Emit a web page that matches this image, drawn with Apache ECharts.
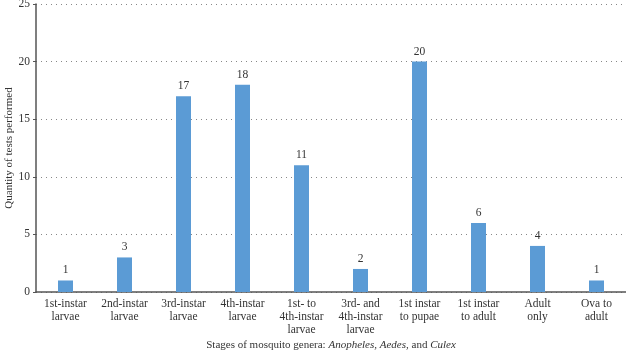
<!DOCTYPE html>
<html>
<head>
<meta charset="utf-8">
<script src="https://cdn.jsdelivr.net/npm/echarts@6/dist/echarts.min.js"></script>
<style>
  html, body { margin: 0; padding: 0; background: #fff; }
  #chart { width: 626px; height: 353px; }
</style>
</head>
<body>
<div id="chart"></div>
<script>
// stages (categories) and counts
var stages = [
  "1st-instar\nlarvae",
  "2nd-instar\nlarvae",
  "3rd-instar\nlarvae",
  "4th-instar\nlarvae",
  "1st- to\n4th-instar\nlarvae",
  "3rd- and\n4th-instar\nlarvae",
  "1st instar\nto pupae",
  "1st instar\nto adult",
  "Adult\nonly",
  "Ova to\nadult"
];
var tests = [1, 3, 17, 18, 11, 2, 20, 6, 4, 1];
var yTicks = [0, 5, 10, 15, 20, 25];

var font = "Liberation Serif";
var chart = echarts.init(document.getElementById("chart"));
chart.setOption({
  animation: false,
  grid: { left: 36, right: 0, top: 4, bottom: 61, outerBoundsMode: "none", containLabel: false },
  xAxis: {
    type: "category",
    data: stages,
    axisLine: { lineStyle: { color: "#555", width: 1.5 } },
    axisTick: { show: false },
    axisLabel: { interval: 0, color: "#333", fontFamily: font, fontSize: 11.5, lineHeight: 13, margin: 5 },
    name: "{n|Stages of mosquito genera: }{i|Anopheles, Aedes, }{n|and }{i|Culex}",
    nameLocation: "middle",
    nameGap: 48,
    nameMoveOverlap: false,
    nameTextStyle: {
      rich: {
        n: { fontFamily: font, fontSize: 11, color: "#333" },
        i: { fontFamily: font, fontSize: 11, color: "#333", fontStyle: "italic" }
      }
    }
  },
  yAxis: {
    type: "value",
    min: yTicks[0],
    max: yTicks[yTicks.length - 1],
    interval: 5,
    axisLine: { show: true, lineStyle: { color: "#555", width: 1.5 } },
    axisTick: { show: true, length: 3, lineStyle: { color: "#555" } },
    axisLabel: { color: "#333", fontFamily: font, fontSize: 11.5, margin: 6 },
    splitLine: { lineStyle: { color: "#888", type: [1, 4] } },
    name: "Quantity of tests performed",
    nameLocation: "middle",
    nameGap: 21,
    nameMoveOverlap: false,
    nameTextStyle: { color: "#333", fontFamily: font, fontSize: 11 }
  },
  series: [{
    type: "bar",
    data: tests,
    barWidth: 15,
    itemStyle: { color: "#5b9bd5" },
    label: { show: true, position: "top", color: "#333", fontFamily: font, fontSize: 11.5, distance: 4 }
  }]
});
</script>
</body>
</html>
